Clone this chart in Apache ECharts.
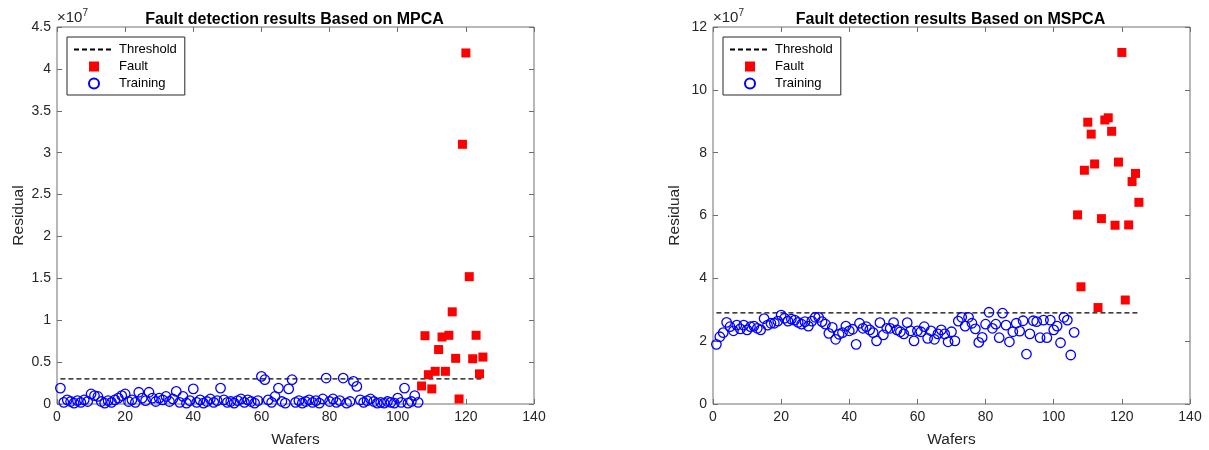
<!DOCTYPE html>
<html>
<head>
<meta charset="utf-8">
<script src="https://cdn.jsdelivr.net/npm/echarts@6/dist/echarts.min.js"></script>
<style>
  html, body { margin: 0; padding: 0; background: #fff; }
  #chart { width: 1209px; height: 450px; }
</style>
</head>
<body>
<div id="chart"></div>
<script>
// values are in units of 1e7
const mpcaTraining = [
  0.19, 0.02, 0.05, 0.03, 0.01, 0.04, 0.02, 0.05, 0.03, 0.12,
  0.10, 0.09, 0.03, 0.01, 0.04, 0.02, 0.05, 0.07, 0.10, 0.12,
  0.03, 0.05, 0.02, 0.14, 0.07, 0.04, 0.14, 0.07, 0.03, 0.07,
  0.05, 0.09, 0.03, 0.06, 0.15, 0.02, 0.09, 0.01, 0.04, 0.18,
  0.02, 0.05, 0.01, 0.03, 0.06, 0.02, 0.04, 0.19, 0.05, 0.02,
  0.03, 0.01, 0.04, 0.06, 0.02, 0.05, 0.03, 0.01, 0.04, 0.33,
  0.29, 0.05, 0.02, 0.09, 0.19, 0.03, 0.01, 0.18, 0.29, 0.02,
  0.04, 0.01, 0.03, 0.05, 0.02, 0.04, 0.01, 0.06, 0.31, 0.03,
  0.06, 0.02, 0.04, 0.31, 0.01, 0.03, 0.27, 0.21, 0.05, 0.02,
  0.04, 0.06, 0.03, 0.01, 0.02, 0.01, 0.03, 0.02, 0.01, 0.07,
  0.02, 0.19, 0.01, 0.03, 0.10, 0.02
];
const mpcaFault = [
  0.215, 0.815, 0.35, 0.18, 0.39, 0.65, 0.80, 0.39, 0.82, 1.10,
  0.545, 0.06, 3.10, 4.19, 1.52, 0.54, 0.82, 0.36, 0.56
];
const mspcaTraining = [
  1.90, 2.14, 2.27, 2.60, 2.46, 2.33, 2.51, 2.39, 2.51, 2.36,
  2.46, 2.48, 2.41, 2.36, 2.72, 2.51, 2.57, 2.57, 2.64, 2.83,
  2.73, 2.64, 2.70, 2.67, 2.60, 2.54, 2.62, 2.48, 2.64, 2.76,
  2.76, 2.62, 2.54, 2.25, 2.44, 2.06, 2.22, 2.27, 2.48, 2.33,
  2.38, 1.90, 2.57, 2.41, 2.46, 2.36, 2.27, 2.01, 2.59, 2.20,
  2.41, 2.41, 2.59, 2.36, 2.30, 2.23, 2.59, 2.33, 2.01, 2.33,
  2.30, 2.46, 2.09, 2.33, 2.06, 2.23, 2.36, 2.23, 1.98, 2.30,
  2.01, 2.64, 2.76, 2.48, 2.76, 2.57, 2.39, 1.96, 2.12, 2.54,
  2.92, 2.41, 2.54, 2.11, 2.89, 2.51, 1.98, 2.30, 2.57, 2.32,
  2.65, 1.59, 2.23, 2.65, 2.62, 2.11, 2.67, 2.11, 2.67, 2.36,
  2.48, 1.95, 2.76, 2.67, 1.56, 2.28
];
const mspcaFault = [
  6.02, 3.73, 7.44, 8.97, 8.59, 7.64, 3.07, 5.90, 9.04, 9.11,
  8.68, 5.69, 7.70, 11.19, 3.31, 5.70, 7.08, 7.34, 6.42
];
const firstFaultWafer = 107;
const mpcaThreshold = 0.30;
const mspcaThreshold = 2.90;
const thresholdSpan = [1, 125];
const titles = ['Fault detection results Based on MPCA', 'Fault detection results Based on MSPCA'];

const chart = echarts.init(document.getElementById('chart'));
const font = 'Liberation Sans, Arial, Helvetica, sans-serif';
const textColor = '#262626';
const boxColor = '#707070';

const toPoints = (arr, start) => arr.map((v, i) => [start + i, v]);

const grids = [
  { left: 57, top: 27, width: 477, height: 377 },
  { left: 713, top: 27, width: 477, height: 377 }
];
const yMax = [4.5, 12];
const yStep = [0.5, 2];

const tick = { inside: true, length: 5, lineStyle: { color: boxColor } };
const noLine = { show: false, onZero: false };

const xAxes = [], yAxes = [];
grids.forEach((g, i) => {
  // bottom / left carry labels, top / right only carry the mirrored ticks
  xAxes.push({
    gridIndex: i, type: 'value', min: 0, max: 140, interval: 20, position: 'bottom',
    name: 'Wafers', nameLocation: 'middle', nameGap: 28,
    nameTextStyle: { fontFamily: font, fontSize: 15.5, color: textColor },
    axisLine: noLine, axisTick: tick,
    axisLabel: { fontFamily: font, fontSize: 14, color: textColor, margin: 6 },
    splitLine: { show: false }
  });
  xAxes.push({
    gridIndex: i, type: 'value', min: 0, max: 140, interval: 20, position: 'top',
    axisLine: noLine, axisTick: tick,
    axisLabel: { show: false }, splitLine: { show: false }
  });
  yAxes.push({
    gridIndex: i, type: 'value', min: 0, max: yMax[i], interval: yStep[i], position: 'left',
    name: 'Residual', nameLocation: 'middle', nameGap: 30, nameRotate: 90,
    nameTextStyle: { fontFamily: font, fontSize: 15.5, color: textColor },
    axisLine: noLine, axisTick: tick,
    axisLabel: { fontFamily: font, fontSize: 14, color: textColor, margin: 6 },
    splitLine: { show: false }
  });
  yAxes.push({
    gridIndex: i, type: 'value', min: 0, max: yMax[i], interval: yStep[i], position: 'right',
    axisLine: noLine, axisTick: tick,
    axisLabel: { show: false }, splitLine: { show: false }
  });
});

function seriesFor(i, threshold, fault, training) {
  return [
    {
      name: 'Threshold', type: 'line', xAxisIndex: i * 2, yAxisIndex: i * 2,
      data: [[thresholdSpan[0], threshold], [thresholdSpan[1], threshold]],
      symbol: 'none', silent: true, z: 1,
      lineStyle: { color: '#000', width: 1.2, type: [5, 3] }
    },
    {
      name: 'Fault', type: 'scatter', xAxisIndex: i * 2, yAxisIndex: i * 2,
      data: toPoints(fault, firstFaultWafer),
      symbol: 'rect', symbolSize: 9, z: 3,
      itemStyle: { color: '#ff0000', opacity: 1 }
    },
    {
      name: 'Training', type: 'scatter', xAxisIndex: i * 2, yAxisIndex: i * 2,
      data: toPoints(training, 1),
      symbol: 'circle', symbolSize: 9.5, z: 2,
      itemStyle: { color: 'rgba(0,0,0,0)', borderColor: '#0000ff', borderWidth: 1.3, opacity: 1 }
    }
  ];
}

const legendFor = (left) => ({
  left: left, top: 37, orient: 'vertical',
  data: [
    { name: 'Threshold', itemStyle: { opacity: 0 } },
    { name: 'Fault', icon: 'path://M0,0L10,0L10,10L0,10Z' },
    { name: 'Training', icon: 'circle' }
  ],
  borderColor: textColor, borderWidth: 1, backgroundColor: '#fff',
  padding: [6, 8, 5, 6], itemWidth: 40, itemHeight: 10, itemGap: 4,
  selectedMode: false,
  textStyle: { fontFamily: font, fontSize: 13, color: '#000' }
});

const option = {
  animation: false,
  backgroundColor: '#fff',
  grid: grids.map(g => Object.assign({
    show: true, borderColor: boxColor, borderWidth: 1, backgroundColor: '#fff',
    containLabel: false, outerBoundsMode: 'none'
  }, g)),
  title: grids.map((g, i) => ({
    text: titles[i], left: g.left + g.width / 2 - 6, top: 7, textAlign: 'center',
    textStyle: { fontFamily: font, fontSize: 16, fontWeight: 'bold', color: '#000' }
  })),
  legend: [legendFor(67), legendFor(723)],
  xAxis: xAxes,
  yAxis: yAxes,
  graphic: grids.map(g => ({
    type: 'text', left: g.left, top: 8,
    style: {
      text: '{a|×10}{b|7}',
      rich: {
        a: { fontFamily: font, fontSize: 15, fill: textColor },
        b: { fontFamily: font, fontSize: 10, fill: textColor, verticalAlign: 'top', padding: [0, 0, 9, 0] }
      }
    }
  })),
  series: [].concat(
    seriesFor(0, mpcaThreshold, mpcaFault, mpcaTraining),
    seriesFor(1, mspcaThreshold, mspcaFault, mspcaTraining)
  )
};
chart.setOption(option);
</script>
</body>
</html>
